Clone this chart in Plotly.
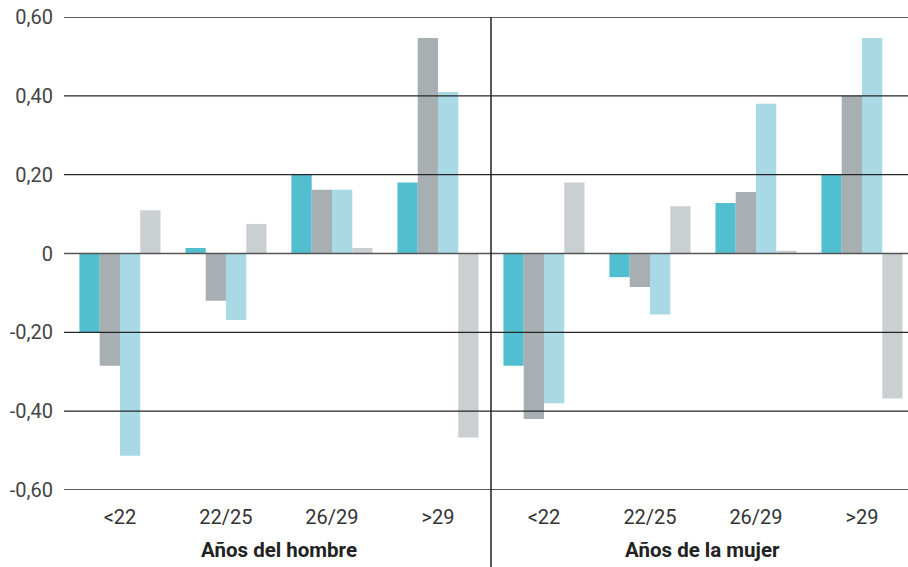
import plotly.graph_objects as go

# ---- data ----
age_labels = ["<22", "22/25", "26/29", ">29"]
group_titles = ["Años del hombre", "Años de la mujer"]

serie_1 = [-0.20, 0.014, 0.20, 0.18, -0.285, -0.06, 0.128, 0.20]
serie_2 = [-0.285, -0.12, 0.162, 0.547, -0.42, -0.085, 0.156, 0.40]
serie_3 = [-0.513, -0.169, 0.162, 0.41, -0.38, -0.155, 0.38, 0.547]
serie_4 = [0.11, 0.075, 0.014, -0.467, 0.18, 0.12, 0.007, -0.368]

y_ticks = [0.6, 0.4, 0.2, 0, -0.2, -0.4, -0.6]
y_tick_text = ["0,60", "0,40", "0,20", "0", "-0,20", "-0,40", "-0,60"]

colors = ["#52BFD0", "#A7AFB2", "#A9D9E5", "#CACFD2"]

x_labels = age_labels * len(group_titles)
x_pos = list(range(len(x_labels)))

W, H = 908, 567
ML, MT, MB = 64, 17, 77
plot_w = W - ML

fig = go.Figure()
for vals, col in zip([serie_1, serie_2, serie_3, serie_4], colors):
    fig.add_trace(go.Bar(x=x_pos, y=vals, marker=dict(color=col, line=dict(width=0)),
                         showlegend=False))

# gridlines above bars
for v in y_ticks:
    fig.add_shape(type="line", xref="paper", x0=0, x1=1, yref="y", y0=v, y1=v,
                  line=dict(color="#555" if v == 0 else "#262626", width=1.4), layer="above")

# vertical divider between groups
div_x = (491 - ML) / plot_w
fig.add_shape(type="line", xref="paper", x0=div_x, x1=div_x, yref="paper", y0=-0.2, y1=1,
              line=dict(color="#222", width=1.5), layer="above")

# group titles
n = len(age_labels)
for i, t in enumerate(group_titles):
    fig.add_annotation(x=i * n + (n - 1) / 2, xref="x", y=-0.127, yref="paper",
                       yanchor="middle", text="<b>" + t + "</b>", showarrow=False,
                       font=dict(family="Roboto", size=20.5, color="#222"))

fig.update_layout(
    width=W, height=H,
    margin=dict(l=ML, r=0, t=MT, b=MB),
    paper_bgcolor="white", plot_bgcolor="white",
    barmode="group", bargap=0.235, bargroupgap=0,
    font=dict(family="Roboto", size=19, color="#444"),
)
fig.update_xaxes(range=[-0.528, 7.434], tickvals=x_pos, ticktext=x_labels,
                 showgrid=False, zeroline=False, showline=False, automargin=False,
                 ticks="", ticklabelstandoff=13,
                 tickfont=dict(family="Roboto", size=20, color="#333"))
fig.update_yaxes(range=[-0.6, 0.6], tickvals=y_ticks, ticktext=y_tick_text,
                 showgrid=False, zeroline=False, showline=False, automargin=False,
                 ticks="", ticklabelstandoff=10, ticklabeloverflow="allow",
                 tickfont=dict(family="Roboto", size=20, color="#444"))

fig.write_html("out.html", config={"displayModeBar": False},
               post_script="document.body.style.margin='0';document.body.style.overflow='hidden';")
